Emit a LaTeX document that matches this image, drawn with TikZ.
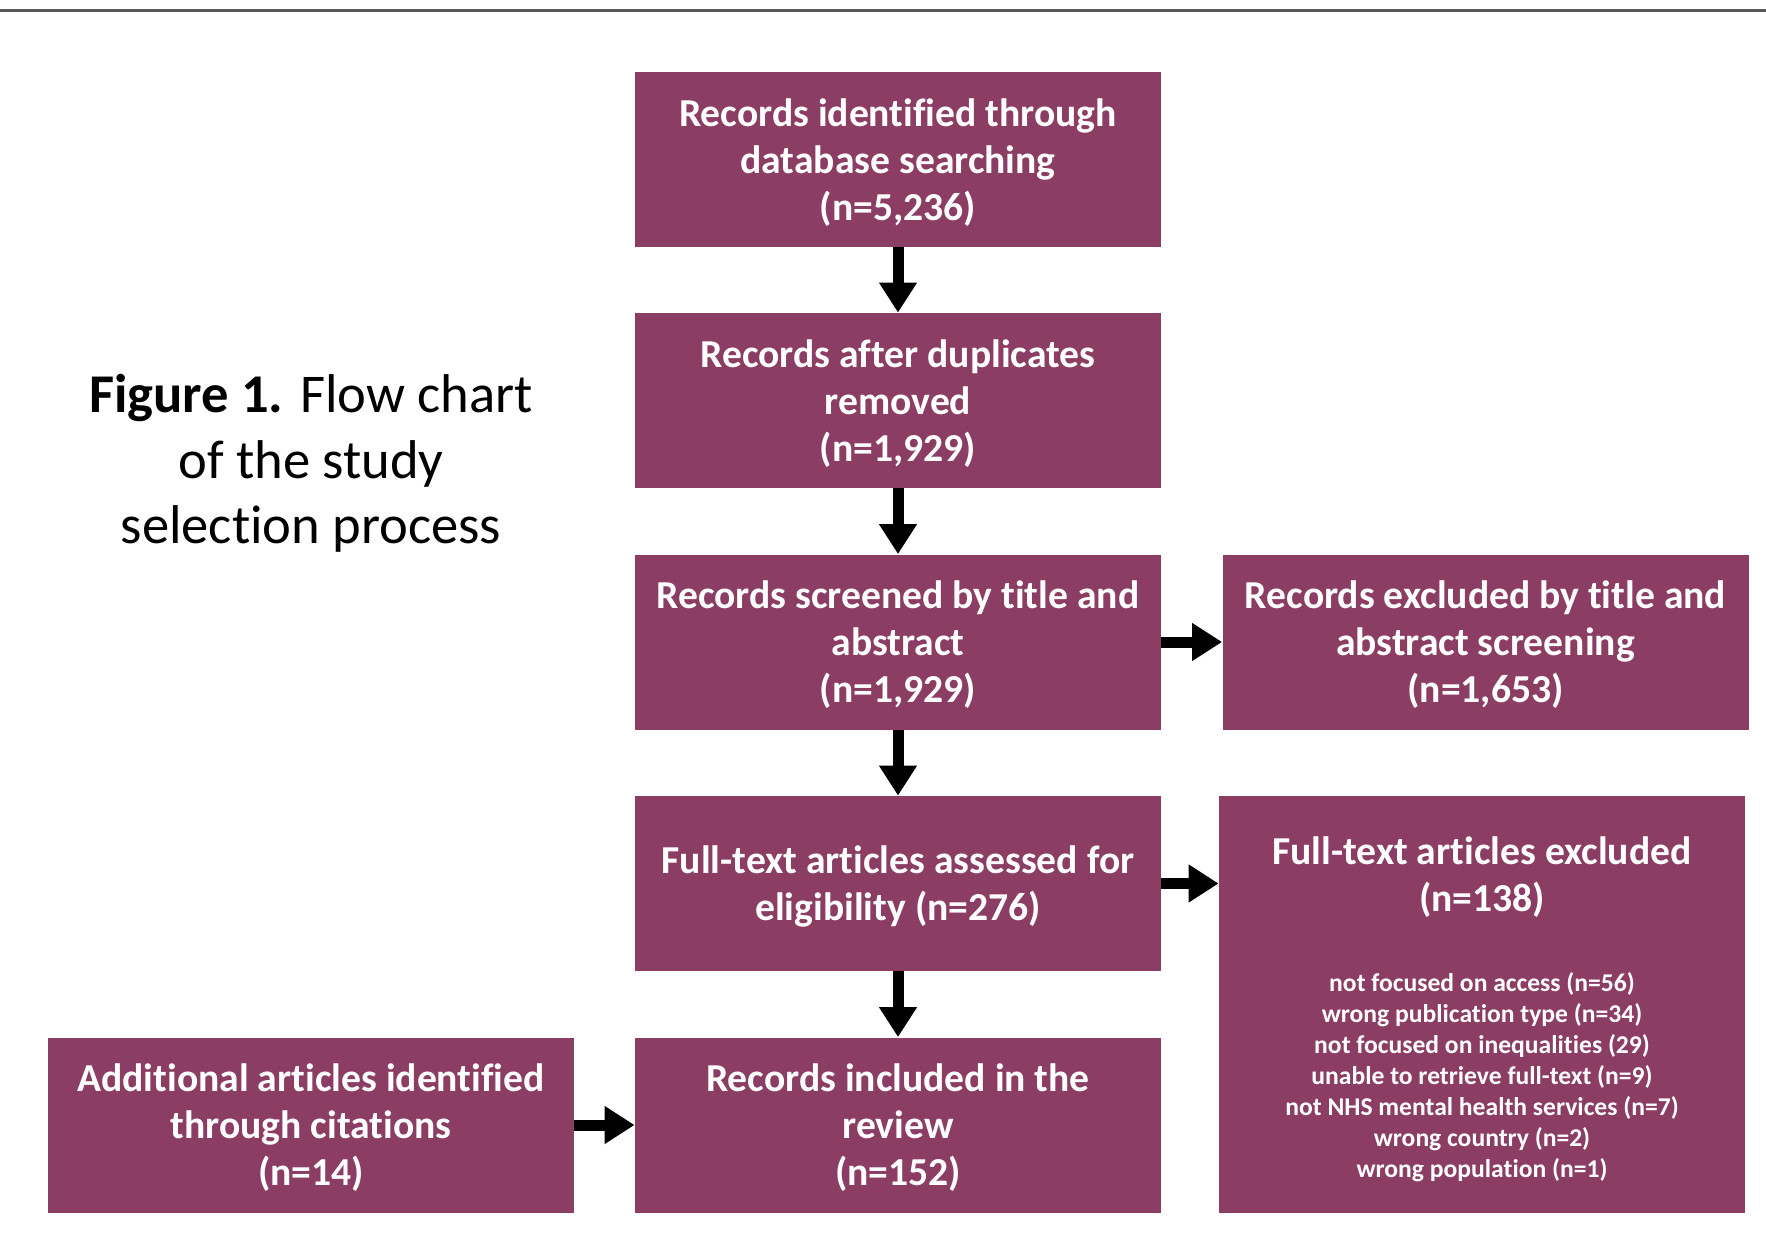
\documentclass[tikz,border=0pt]{standalone}
\usepackage{fontspec}
\setmainfont{Carlito}[Ligatures=NoCommon]
\definecolor{prismapurple}{RGB}{139,61,100}
\definecolor{rulegray}{RGB}{90,90,90}
\usetikzlibrary{arrows.meta}

\tikzset{
  box/.style={fill=prismapurple, text=white, align=center, inner sep=0pt,
    minimum width=263pt, minimum height=87.5pt, text depth=0pt,
    font=\fontsize{19.8}{23.5}\selectfont\bfseries},
  flow/.style={-{Triangle[width=18pt,length=15pt]}, line width=5.5pt, black}
}

\begin{document}
\begin{tikzpicture}[x=0.5pt, y=-0.5pt]
    \useasboundingbox (0,0) rectangle (1766,1257);
    \draw[rulegray, line width=1.5pt] (0,11) -- (1766,11);

    \node[align=center, font=\fontsize{27.3}{32.7}\selectfont] (caption) at (311,463.5)
      {\textbf{Figure 1.} Flow chart\\of the study\\selection process};

    \node[box] (ident) at (898,159.5) {Records identified through\\database searching\\(n=5,236)};
    \node[box] (dedup) at (898,400.5) {Records after duplicates\\removed\\(n=1,929)};
    \node[box] (screen) at (898,642) {Records screened by title and\\abstract\\(n=1,929)};
    \node[box] (full) at (898,883.5) {Full-text articles assessed for\\eligibility (n=276)};
    \node[box] (incl) at (898,1125) {Records included in the\\review\\(n=152)};

    \node[box] (scrEx) at (1485.5,642) {Records excluded by title and\\abstract screening\\(n=1,653)};
    \node[box, minimum height=208.5pt] (fullEx) at (1482,1004.5) {};
    \node[align=center, text=white, font=\fontsize{19.8}{23.5}\selectfont\bfseries] (fullExT) at (1482,877)
      {Full-text articles excluded\\(n=138)};
    \node[align=center, text=white, font=\fontsize{12.8}{15.5}\selectfont\bfseries] (reasons) at (1482,1077)
      {not focused on access (n=56)\\wrong publication type (n=34)\\not focused on inequalities (29)\\unable to retrieve full-text (n=9)\\not NHS mental health services (n=7)\\wrong country (n=2)\\wrong population (n=1)};

    \node[box] (cite) at (311,1125) {Additional articles identified\\through citations\\(n=14)};

    \foreach \a/\b in {ident/dedup, dedup/screen, screen/full, full/incl}
      \draw[flow] (\a.south) -- (\b.north);
    \draw[flow] (screen.east) -- (scrEx.west);
    \draw[flow] (full.east) -- (fullEx.west |- full.east);
    \draw[flow] (cite.east) -- (incl.west);
  \end{tikzpicture}
\end{document}
